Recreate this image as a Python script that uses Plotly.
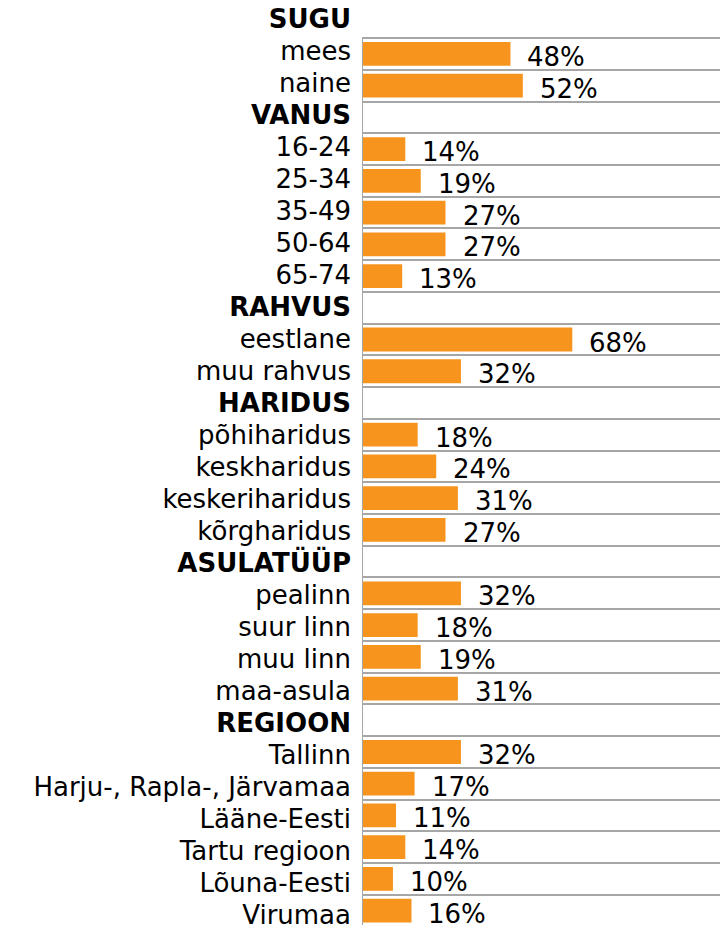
import plotly.graph_objects as go

# Survey sample structure by respondent group (% of respondents)
categories = [
    "SUGU", "mees", "naine",
    "VANUS", "16-24", "25-34", "35-49", "50-64", "65-74",
    "RAHVUS", "eestlane", "muu rahvus",
    "HARIDUS", "põhiharidus", "keskharidus", "keskeriharidus", "kõrgharidus",
    "ASULATÜÜP", "pealinn", "suur linn", "muu linn", "maa-asula",
    "REGIOON", "Tallinn", "Harju-, Rapla-, Järvamaa", "Lääne-Eesti",
    "Tartu regioon", "Lõuna-Eesti", "Virumaa",
]
headers = ["SUGU", "VANUS", "RAHVUS", "HARIDUS", "ASULATÜÜP", "REGIOON"]
values = [
    None, 48, 52,
    None, 14, 19, 27, 27, 13,
    None, 68, 32,
    None, 18, 24, 31, 27,
    None, 32, 18, 19, 31,
    None, 32, 17, 11, 14, 10, 16,
]

FONT = "DejaVu Sans"
FS = 26
BAR_COLOR = "#F7941D"
GRID = "#A6A6A6"

tick_text = [f"<b>{c}</b>" if c in headers else c for c in categories]

# the first header sits above the framed plot region
bar_cats = categories[1:]
bar_vals = values[1:]

fig = go.Figure()

fig.add_trace(go.Bar(
    x=bar_vals, y=bar_cats, orientation="h",
    marker=dict(color=BAR_COLOR, line=dict(width=0)),
    width=0.75, hoverinfo="skip", showlegend=False,
    xaxis="x", yaxis="y",
))

# carrier for the category label axis
fig.add_trace(go.Scatter(
    x=[0] * len(categories), y=categories, mode="markers",
    marker=dict(opacity=0, size=1), hoverinfo="skip", showlegend=False,
    xaxis="x", yaxis="y2",
))

for c, v in zip(bar_cats, bar_vals):
    if v is None:
        continue
    fig.add_annotation(
        x=v, y=c, xref="x", yref="y", text=f"{v}%",
        showarrow=False, xanchor="left", yanchor="middle",
        xshift=15, yshift=-3,
        font=dict(family=FONT, size=FS, color="#000000"),
    )

top_frac = 1 - 38.3 / 930

# frame: left axis line of the plotting region
fig.add_shape(type="line", xref="x", yref="paper", x0=0, x1=0, y0=0, y1=top_frac,
              line=dict(color=GRID, width=2), layer="above")

fig.update_layout(
    width=720, height=930,
    margin=dict(l=362, r=0, t=0, b=0),
    paper_bgcolor="white", plot_bgcolor="white",
    font=dict(family=FONT, size=FS, color="#000000"),
    xaxis=dict(
        domain=[0, 1], range=[0, 115.75],
        showgrid=False, zeroline=False, showticklabels=False, ticks="",
        showline=False, fixedrange=True,
    ),
    yaxis=dict(
        type="category",
        range=[27.453, -1.7006],
        showgrid=True, gridcolor=GRID, gridwidth=1.6, tickson="boundaries",
        showticklabels=False, ticks="", zeroline=False, showline=False,
        fixedrange=True,
    ),
    yaxis2=dict(
        type="category", overlaying="y", side="left", anchor="x",
        range=[28.316, -0.5842],
        tickvals=categories, ticktext=tick_text,
        showgrid=False, zeroline=False, showline=False, ticks="",
        ticklabelstandoff=10,
        tickfont=dict(family=FONT, size=FS, color="#000000"),
        fixedrange=True,
    ),
)

fig.write_html("out.html")
